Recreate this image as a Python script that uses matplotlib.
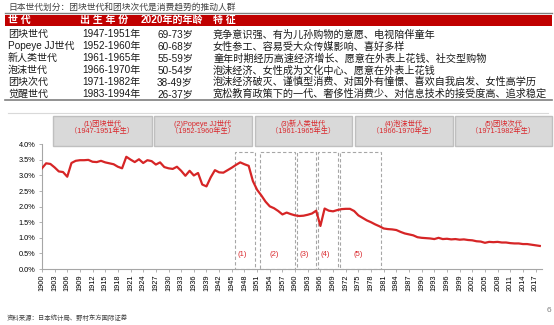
import matplotlib
matplotlib.use('Agg')
import matplotlib.pyplot as plt
from matplotlib.patches import Rectangle
from matplotlib.lines import Line2D
from matplotlib.ticker import FuncFormatter, MultipleLocator
import numpy as np

plt.rcParams['font.family'] = ['Liberation Sans', 'Noto Sans CJK SC', 'DejaVu Sans']

# Data

title = '日本世代划分：团块世代和团块次代是消费趋势的推动人群'
table_header = ['世 代', '出 生 年 份', '2020年的年龄', '特 征']
gen_names = ['团块世代', 'Popeye JJ世代', '新人类世代', '泡沫世代', '团块次代', '觉醒世代']
birth_years = ['1947-1951年', '1952-1960年', '1961-1965年', '1966-1970年', '1971-1982年', '1983-1994年']
ages_2020 = ['69-73岁', '60-68岁', '55-59岁', '50-54岁', '38-49岁', '26-37岁']
traits = [
    '竞争意识强、有为儿孙购物的意愿、电视陪伴童年',
    '女性参工、容易受大众传媒影响、喜好多样',
    '童年时期经历高速经济增长、愿意在外表上花钱、社交型购物',
    '泡沫经济、女性成为文化中心、愿意在外表上花钱',
    '泡沫经济破灭、谨慎型消费、对国外有憧憬、喜欢自我启发、女性高学历',
    '宽松教育政策下的一代、奢侈性消费少、对信息技术的接受度高、追求稳定',
]

box_titles = ['(1)团块世代', '(2)Popeye JJ世代', '(3)新人类世代', '(4)泡沫世代', '(5)团块次代']
box_years = ['（1947-1951年生）', '（1952-1960年生）', '（1961-1965年生）',
             '（1966-1970年生）', '（1971-1982年生）']
region_labels = ['(1)', '(2)', '(3)', '(4)', '(5)']

years = np.arange(1900, 2019)
birth_rate = [
    3.23, 3.39, 3.37, 3.26, 3.13, 3.11, 2.96, 3.40, 3.47, 3.49,   # 1900s
    3.49, 3.50, 3.44, 3.43, 3.47, 3.42, 3.39, 3.36, 3.28, 3.23,   # 1910s
    3.60, 3.51, 3.43, 3.52, 3.40, 3.49, 3.46, 3.35, 3.42, 3.27,   # 1920s
    3.23, 3.21, 3.28, 3.15, 2.99, 3.15, 3.00, 3.08, 2.71, 2.65,   # 1930s
    2.94, 3.17, 3.10, 3.09, 3.17, 3.25, 3.34, 3.42, 3.36, 3.31,   # 1940s
    2.82, 2.54, 2.36, 2.16, 2.01, 1.95, 1.86, 1.75, 1.81, 1.76,   # 1950s
    1.72, 1.70, 1.71, 1.74, 1.78, 1.87, 1.38, 1.94, 1.87, 1.85,   # 1960s
    1.89, 1.92, 1.93, 1.93, 1.86, 1.72, 1.64, 1.56, 1.50, 1.43,   # 1970s
    1.37, 1.30, 1.28, 1.27, 1.25, 1.19, 1.14, 1.11, 1.08, 1.02,   # 1980s
    1.00, 0.99, 0.98, 0.96, 1.00, 0.96, 0.97, 0.95, 0.96, 0.94,   # 1990s
    0.95, 0.93, 0.92, 0.89, 0.88, 0.84, 0.87, 0.86, 0.87, 0.85,   # 2000s
    0.85, 0.83, 0.82, 0.82, 0.80, 0.80, 0.78, 0.76, 0.74,         # 2010s
]

source = '资料来源：日本统计局、野村东方国际证券'

# Layout helpers (pixel coords from top-left)
W, H = 554, 325
def fx(x):
    return x / W
def fy(y):
    return 1 - y / H

RED = '#C00000'
LINE_RED = '#D62526'
TXT_RED = '#D9262B'
TXT = '#1A1A1A'

fig = plt.figure(figsize=(W / 100, H / 100), dpi=100)

# Title and table
fig.text(fx(8), fy(7), title, fontsize=6.3, color='#404040', va='center')
fig.add_artist(Line2D([fx(5), fx(552)], [fy(13.3), fy(13.3)], color='#7F7F7F', lw=1.0))
fig.add_artist(Rectangle((fx(5), fy(25.5)), fx(552) - fx(5), fy(15) - fy(25.5),
                         transform=fig.transFigure, facecolor=RED, edgecolor='none'))
hx = [8, 80, 172, 213]
for i, h in enumerate(table_header):
    fig.text(fx(hx[i]), fy(20.3), h, fontsize=7.2, color='white', weight='bold',
             va='center', ha='center' if i == 2 else 'left')
for i in range(len(gen_names)):
    y = fy(34.5 + i * 11.9)
    fig.text(fx(8), y, gen_names[i], fontsize=7.2, va='center', color=TXT)
    fig.text(fx(82), y, birth_years[i], fontsize=7.2, va='center', color=TXT)
    fig.text(fx(175), y, ages_2020[i], fontsize=7.2, va='center', ha='center', color=TXT)
    fig.text(fx(213), y, traits[i], fontsize=7.3, va='center', color=TXT)
fig.add_artist(Line2D([fx(5), fx(552)], [fy(99.5), fy(99.5)], color='#7F7F7F', lw=1.2))

# chart frame top line
fig.add_artist(Line2D([fx(8), fx(548)], [fy(113), fy(113)], color='#D9D9D9', lw=0.8))

# Annotation boxes
box_x = [(53.3, 151.7), (154.3, 251.7), (255, 351.7), (355, 452.7), (455, 551.7)]
for i, (x0, x1) in enumerate(box_x):
    fig.add_artist(Rectangle((fx(x0), fy(146)), fx(x1) - fx(x0), fy(116) - fy(146),
                             transform=fig.transFigure, facecolor='#D9D9D9',
                             edgecolor='#BFBFBF', lw=1.0))
    cx = fx((x0 + x1) / 2)
    fig.text(cx, fy(123.5), box_titles[i], fontsize=5.2, color=TXT_RED, ha='center', va='center')
    fig.text(cx, fy(131), box_years[i], fontsize=5.2, color=TXT_RED, ha='center', va='center')

# Main chart
ax = fig.add_axes([fx(41.5), fy(269), fx(541.5) - fx(41.5), fy(144.3) - fy(269)])
ax.set_xlim(1899.9, 2018.4)
ax.set_ylim(0, 4.0)

region_spans = [(1945.8, 1950.5), (1951.6, 1959.9), (1960.4, 1964.9),
                (1965.5, 1970.1), (1970.7, 1980.4)]
for i, (a, b) in enumerate(region_spans):
    ax.add_patch(Rectangle((a, 0), b - a, 3.76, fill=False, ls=(0, (3, 2)),
                           ec='#A6A6A6', lw=0.8, clip_on=False, zorder=2))
    ax.text((a + b) / 2 - 0.6, 0.45, region_labels[i], fontsize=5.5, color=TXT_RED,
            ha='center', va='center')

ax.plot(years, birth_rate, color=LINE_RED, lw=1.6, zorder=3, solid_joinstyle='round')

ax.set_xticks(years[::3])
ax.set_xticklabels([str(y) for y in years[::3]], rotation=90, fontsize=5.3)
ax.yaxis.set_major_locator(MultipleLocator(0.5))
ax.yaxis.set_major_formatter(FuncFormatter(lambda v, pos: '{:.1f}%'.format(v)))
ax.tick_params(axis='y', labelsize=5.3, length=2.5, width=0.6, color='#A6A6A6', pad=2)
ax.tick_params(axis='x', length=2.5, width=0.6, color='#A6A6A6', pad=1.5)
for s in ['top', 'right']:
    ax.spines[s].set_visible(False)
for s in ['left', 'bottom']:
    ax.spines[s].set_color('#A6A6A6')
    ax.spines[s].set_linewidth(0.8)
ax.patch.set_alpha(0)

# Footer
fig.text(fx(7), fy(318), source, fontsize=4.6, color='#404040', style='italic', va='center')
fig.text(fx(549), fy(311), '6', fontsize=6, color='#7F7F7F', ha='center', va='center')

fig.savefig('out.png', dpi=100)
